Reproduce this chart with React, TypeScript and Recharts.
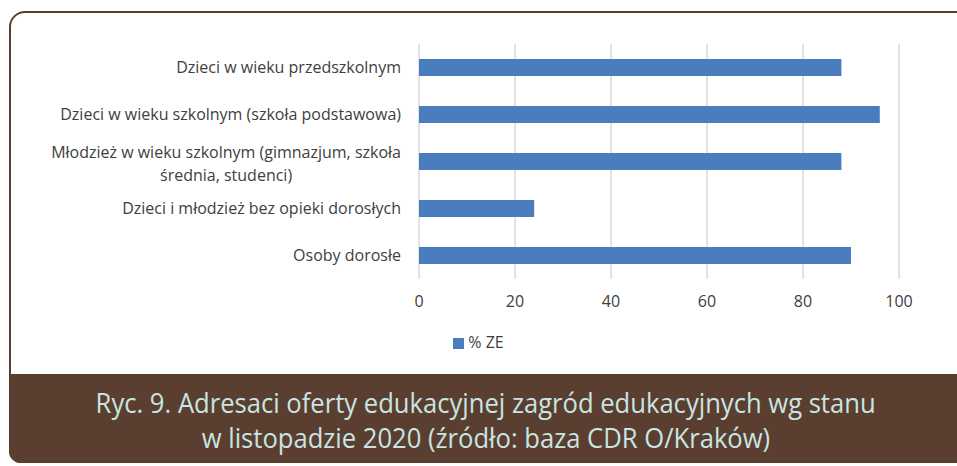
import { Bar, BarChart, CartesianGrid, Legend, XAxis, YAxis } from "recharts"

// Odbiorcy oferty edukacyjnej (% zagród edukacyjnych)
const categories = [
  "Dzieci w wieku przedszkolnym",
  "Dzieci w wieku szkolnym (szkoła podstawowa)",
  "Młodzież w wieku szkolnym (gimnazjum, szkoła\nśrednia, studenci)",
  "Dzieci i młodzież bez opieki dorosłych",
  "Osoby dorosłe",
]
const shares = [88, 96, 88, 24, 90]
const xTicks = [0, 20, 40, 60, 80, 100]
const seriesName = "% ZE"
const captionLines = [
  "Ryc. 9. Adresaci oferty edukacyjnej zagród edukacyjnych wg stanu",
  "w listopadzie 2020 (źródło: baza CDR O/Kraków)",
]

const data = categories.map((name, i) => ({ name, value: shares[i] }))

const BROWN = "#5a3e2f"
const LABEL_FONT = "16px 'Open Sans'"
const CAPTION_FONT = "28px 'Open Sans'"

let ctx: CanvasRenderingContext2D | null = null
function textWidth(s: string, font: string) {
  if (!ctx) ctx = document.createElement("canvas").getContext("2d")
  if (!ctx) return s.length * 8
  ctx.font = font
  return ctx.measureText(s).width
}

function CategoryTick(props: any) {
  const { x, y, payload } = props
  const lines: string[] = String(payload.value).split("\n")
  if (lines.length === 1) {
    return (
      <text x={x} y={y} dy="0.35em" textAnchor="end" fill="#404040" style={{ font: LABEL_FONT }}>
        {lines[0]}
      </text>
    )
  }
  // wrapped label: lines centred on each other, block right-aligned
  const w = Math.max(...lines.map((l) => textWidth(l, LABEL_FONT)))
  const cx = x - w / 2
  const lh = 23
  const startY = y - ((lines.length - 1) * lh) / 2 + 2
  return (
    <text textAnchor="middle" fill="#404040" style={{ font: LABEL_FONT }}>
      {lines.map((l, i) => (
        <tspan key={i} x={cx} y={startY + i * lh} dy="0.35em">
          {l}
        </tspan>
      ))}
    </text>
  )
}

export default function App() {
  // caption font is condensed in the original: squeeze to its width
  const squeeze = 780 / textWidth(captionLines[0], CAPTION_FONT)
  return (
    <div
      style={{
        position: "absolute",
        left: 0,
        top: 0,
        width: 957,
        height: 466,
        overflow: "hidden",
        background: "#fff",
      }}
    >
      <div
        style={{
          position: "absolute",
          left: 9,
          top: 11,
          width: 960,
          height: 452,
          border: `2.5px solid ${BROWN}`,
          borderTopLeftRadius: 16,
          borderBottomLeftRadius: 12,
          boxSizing: "border-box",
        }}
      />
      <div style={{ position: "absolute", left: 0, top: 0 }}>
        <BarChart
          width={957}
          height={370}
          data={data}
          layout="vertical"
          margin={{ top: 44, right: 58, left: 0, bottom: 61 }}
        >
          <CartesianGrid horizontal={false} stroke="#d9d9d9" strokeWidth={1.5} />
          <XAxis
            type="number"
            domain={[0, 100]}
            ticks={xTicks}
            tickLine={false}
            axisLine={false}
            tickSize={0}
            tickMargin={17}
            tick={{ fontSize: 16, fill: "#404040", fontFamily: "Open Sans" }}
          />
          <YAxis
            type="category"
            dataKey="name"
            width={419}
            tickLine={false}
            axisLine={false}
            tickSize={0}
            tickMargin={18}
            interval={0}
            tick={<CategoryTick />}
          />
          <Legend
            layout="horizontal"
            verticalAlign="middle"
            align="center"
            iconType="square"
            iconSize={11}
            wrapperStyle={{ top: 331, left: 34, fontFamily: "Open Sans", color: "#404040" }}
            formatter={(v) => <span style={{ color: "#404040", fontSize: 16 }}>{v}</span>}
          />
          <Bar dataKey="value" name={seriesName} fill="#4a7dbd" barSize={17} isAnimationActive={false} />
        </BarChart>
      </div>
      <div
        style={{
          position: "absolute",
          left: 9,
          top: 374,
          width: 960,
          height: 89,
          background: BROWN,
          borderBottomLeftRadius: 12,
        }}
      />
      <div
        style={{
          position: "absolute",
          left: 0,
          top: 385,
          width: 972,
          textAlign: "center",
          color: "#c8e5e3",
          font: CAPTION_FONT,
          lineHeight: "35px",
        }}
      >
        {captionLines.map((l, i) => (
          <div key={i}>
            <span style={{ display: "inline-block", transform: `scaleX(${squeeze})`, whiteSpace: "nowrap" }}>{l}</span>
          </div>
        ))}
      </div>
    </div>
  )
}
